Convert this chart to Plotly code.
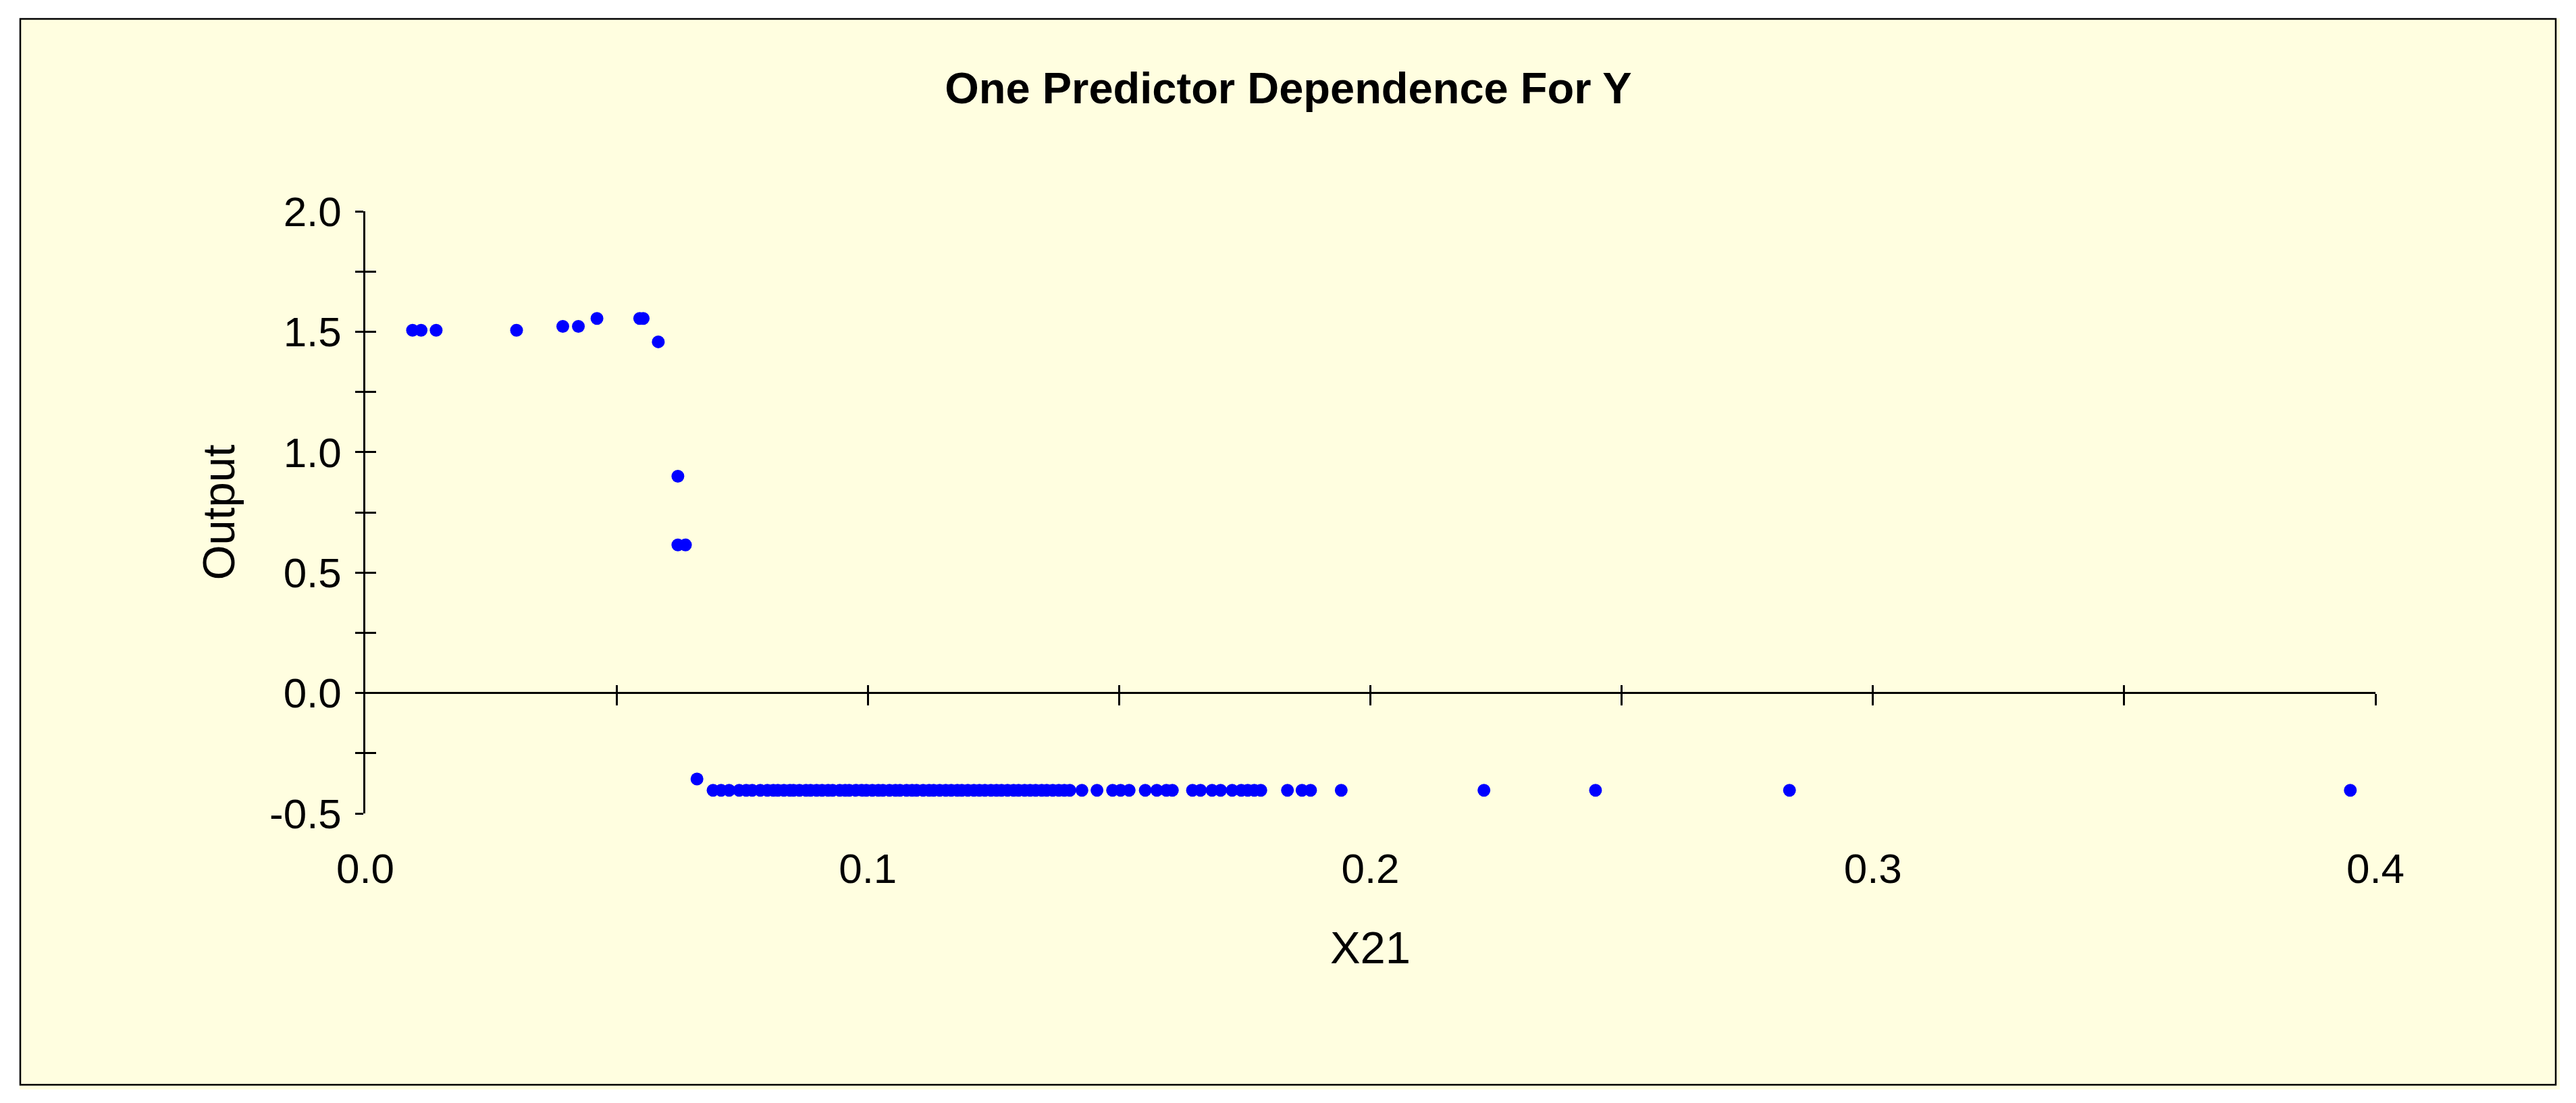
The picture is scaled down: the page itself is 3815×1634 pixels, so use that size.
import plotly.graph_objects as go

# ---------------- data ----------------
x21_high = [0.0094, 0.0111, 0.0141, 0.0301, 0.0393, 0.0424, 0.0461,
            0.0546, 0.0553, 0.0583, 0.0622, 0.0622, 0.0637]
out_high = [1.506, 1.506, 1.506, 1.506, 1.522, 1.522, 1.555,
            1.555, 1.555, 1.458, 0.900, 0.615, 0.615]

x21_low = [0.0660,
           0.0692, 0.0708, 0.0724, 0.0744, 0.0758, 0.0770, 0.0786,
           0.0800, 0.0812, 0.0821, 0.0833, 0.0845, 0.0852, 0.0864, 0.0877,
           0.0886, 0.0898, 0.0909, 0.0921, 0.0930, 0.0944, 0.0955, 0.0963,
           0.0976, 0.0988, 0.0997, 0.1009, 0.1021, 0.1030, 0.1043, 0.1055,
           0.1064, 0.1077, 0.1088, 0.1097, 0.1110, 0.1122, 0.1131, 0.1143,
           0.1155, 0.1166, 0.1178, 0.1187, 0.1199, 0.1211, 0.1222, 0.1233,
           0.1245, 0.1256, 0.1266, 0.1278, 0.1290, 0.1300, 0.1312, 0.1323,
           0.1334, 0.1346, 0.1356, 0.1368, 0.1380, 0.1391, 0.1402,
           0.1426, 0.1456, 0.1487, 0.1503, 0.1520, 0.1552, 0.1575, 0.1594,
           0.1606, 0.1646, 0.1662, 0.1685, 0.1702, 0.1725, 0.1743, 0.1756,
           0.1769, 0.1782, 0.1835, 0.1864, 0.1881, 0.1942, 0.2226, 0.2448,
           0.2834, 0.3950]
out_low = [-0.357,
           -0.404, -0.404, -0.404, -0.404, -0.404, -0.404, -0.404,
           -0.404, -0.404, -0.404, -0.404, -0.404, -0.404, -0.404, -0.404,
           -0.404, -0.404, -0.404, -0.404, -0.404, -0.404, -0.404, -0.404,
           -0.404, -0.404, -0.404, -0.404, -0.404, -0.404, -0.404, -0.404,
           -0.404, -0.404, -0.404, -0.404, -0.404, -0.404, -0.404, -0.404,
           -0.404, -0.404, -0.404, -0.404, -0.404, -0.404, -0.404, -0.404,
           -0.404, -0.404, -0.404, -0.404, -0.404, -0.404, -0.404, -0.404,
           -0.404, -0.404, -0.404, -0.404, -0.404, -0.404, -0.404,
           -0.404, -0.404, -0.404, -0.404, -0.404, -0.404, -0.404, -0.404,
           -0.404, -0.404, -0.404, -0.404, -0.404, -0.404, -0.404, -0.404,
           -0.404, -0.404, -0.404, -0.404, -0.404, -0.404, -0.404, -0.404,
           -0.404, -0.404]

x_label_vals = [0.0, 0.1, 0.2, 0.3, 0.4]
x_label_text = ["0.0", "0.1", "0.2", "0.3", "0.4"]
x_tick_vals = [0.05, 0.10, 0.15, 0.20, 0.25, 0.30, 0.35, 0.40]
y_label_vals = [-0.5, 0.0, 0.5, 1.0, 1.5, 2.0]
y_label_text = ["-0.5", "0.0", "0.5", "1.0", "1.5", "2.0"]
y_minor_vals = [-0.25, 0.25, 0.75, 1.25, 1.75]
y_tick_vals = [-0.5, -0.25, 0.0, 0.25, 0.5, 0.75, 1.0, 1.25, 1.5, 1.75, 2.0]

TITLE = "One Predictor Dependence For Y"
X_TITLE = "X21"
Y_TITLE = "Output"

# ---------------- layout geometry ----------------
W, H = 3815, 1634
L, R, T, B = 533, 305, 305, 437
PW, PH = W - L - R, H - T - B
FONT = "Liberation Sans, Arial, Helvetica, sans-serif"
BG = "#FFFEE0"


def px_x(px):
    return (px - L) / PW


def px_y(py):
    return (H - B - py) / PH


fig = go.Figure()

fig.add_trace(go.Scatter(
    x=x21_high + x21_low, y=out_high + out_low, mode="markers",
    marker=dict(size=19, color="#0000FF", line=dict(width=0)),
    showlegend=False, hoverinfo="x+y"))

# invisible helpers so that the overlaid tick axes are drawn
for xa, ya in (("x2", "y"), ("x3", "y"), ("x", "y2")):
    fig.add_trace(go.Scatter(x=[None], y=[None], xaxis=xa, yaxis=ya,
                             mode="markers", showlegend=False, hoverinfo="skip"))

tickfont = dict(family=FONT, size=62, color="black")
titlefont = dict(family=FONT, size=67, color="black")
XR = [0, 0.4]
YR = [-0.5, 2.0]

fig.update_layout(
    width=W, height=H,
    margin=dict(l=L, r=R, t=T, b=B, pad=0),
    paper_bgcolor="white",
    plot_bgcolor="rgba(0,0,0,0)",
    title=dict(text=TITLE, x=1900 / W, xref="container", xanchor="center",
               y=1 - 122 / H, yref="container", yanchor="middle",
               font=dict(family=FONT, size=65, color="black", weight="bold")),
    xaxis=dict(range=XR, domain=[0, 1], anchor="y", showline=False,
               zeroline=False, showgrid=False, ticks="",
               tickmode="array", tickvals=x_label_vals, ticktext=x_label_text,
               tickfont=tickfont, ticklabelstandoff=40,
               title=dict(text=X_TITLE, font=titlefont, standoff=60)),
    xaxis2=dict(range=XR, overlaying="x", anchor="free", position=0.2,
                side="bottom", showline=False, zeroline=False, showgrid=False,
                tickmode="array", tickvals=x_tick_vals, ticks="outside",
                ticklen=17, tickwidth=2.5, tickcolor="black",
                showticklabels=False),
    xaxis3=dict(range=XR, overlaying="x", anchor="free", position=0.2,
                side="bottom", showline=False, zeroline=False, showgrid=False,
                tickmode="array", tickvals=x_tick_vals, ticks="inside",
                ticklen=12, tickwidth=2.5, tickcolor="black",
                showticklabels=False),
    yaxis=dict(range=YR, domain=[0, 1], anchor="x", side="left",
               showline=True, linecolor="black", linewidth=2.5,
               zeroline=True, zerolinecolor="black", zerolinewidth=2.5,
               showgrid=False, tickmode="array", tickvals=y_label_vals,
               ticktext=y_label_text, ticks="outside", ticklen=12,
               tickwidth=2.5, tickcolor="black",
               minor=dict(tickmode="array", tickvals=y_minor_vals,
                          ticks="outside", ticklen=12, tickwidth=2.5,
                          tickcolor="black", showgrid=False),
               tickfont=tickfont, ticklabelstandoff=8,
               title=dict(text=Y_TITLE, font=titlefont, standoff=30)),
    yaxis2=dict(range=YR, overlaying="y", anchor="x", side="left",
                showline=False, zeroline=False, showgrid=False,
                tickmode="array", tickvals=y_tick_vals, ticks="inside",
                ticklen=16, tickwidth=2.5, tickcolor="black",
                showticklabels=False),
    shapes=[
        dict(type="rect", xref="paper", yref="paper", layer="below",
             x0=px_x(21), x1=px_x(3783), y0=px_y(1606), y1=px_y(19),
             fillcolor=BG, line=dict(width=0)),
        dict(type="rect", xref="paper", yref="paper", layer="below",
             x0=px_x(22), x1=px_x(3777), y0=px_y(1599), y1=px_y(20),
             fillcolor="rgba(0,0,0,0)", line=dict(color="black", width=2.5)),
    ],
)

fig.write_html("out.html")
